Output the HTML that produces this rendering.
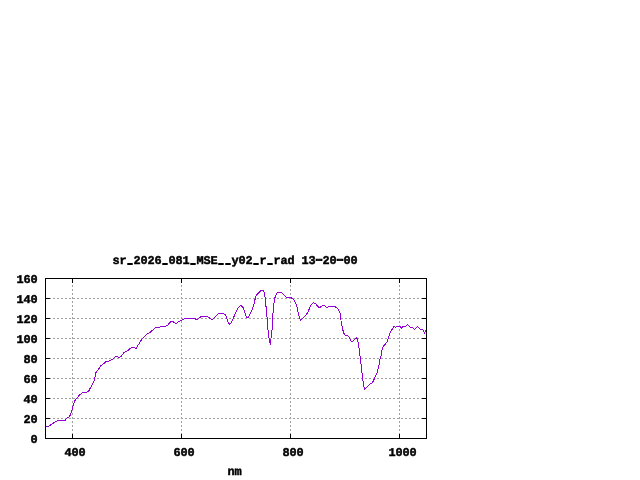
<!DOCTYPE html>
<html lang="en">
<head>
<meta charset="utf-8">
<title>sr_2026_081_MSE__y02_r_rad 13-20-00</title>
<style>
html,body{margin:0;padding:0;background:#ffffff;}
body{width:640px;height:480px;overflow:hidden;}
svg{display:block;}
</style>
</head>
<body>
<svg width="640" height="480" viewBox="0 0 640 480">
<rect x="0" y="0" width="640" height="480" fill="#ffffff"/>
<g stroke="#a0a0a0" stroke-width="1" stroke-dasharray="2 2" shape-rendering="crispEdges" fill="none">
<line x1="45" y1="298.5" x2="427" y2="298.5"/>
<line x1="45" y1="318.5" x2="427" y2="318.5"/>
<line x1="45" y1="338.5" x2="427" y2="338.5"/>
<line x1="45" y1="358.5" x2="427" y2="358.5"/>
<line x1="45" y1="378.5" x2="427" y2="378.5"/>
<line x1="45" y1="398.5" x2="427" y2="398.5"/>
<line x1="45" y1="418.5" x2="427" y2="418.5"/>
<line x1="72.5" y1="439" x2="72.5" y2="278"/>
<line x1="181.5" y1="439" x2="181.5" y2="278"/>
<line x1="290.5" y1="439" x2="290.5" y2="278"/>
<line x1="399.5" y1="439" x2="399.5" y2="278"/>
</g>
<g stroke="#000000" stroke-width="1" shape-rendering="crispEdges" fill="none">
<line x1="45" y1="298.5" x2="50" y2="298.5"/>
<line x1="422" y1="298.5" x2="427" y2="298.5"/>
<line x1="45" y1="318.5" x2="50" y2="318.5"/>
<line x1="422" y1="318.5" x2="427" y2="318.5"/>
<line x1="45" y1="338.5" x2="50" y2="338.5"/>
<line x1="422" y1="338.5" x2="427" y2="338.5"/>
<line x1="45" y1="358.5" x2="50" y2="358.5"/>
<line x1="422" y1="358.5" x2="427" y2="358.5"/>
<line x1="45" y1="378.5" x2="50" y2="378.5"/>
<line x1="422" y1="378.5" x2="427" y2="378.5"/>
<line x1="45" y1="398.5" x2="50" y2="398.5"/>
<line x1="422" y1="398.5" x2="427" y2="398.5"/>
<line x1="45" y1="418.5" x2="50" y2="418.5"/>
<line x1="422" y1="418.5" x2="427" y2="418.5"/>
<line x1="72.5" y1="434" x2="72.5" y2="439"/>
<line x1="72.5" y1="278" x2="72.5" y2="283"/>
<line x1="181.5" y1="434" x2="181.5" y2="439"/>
<line x1="181.5" y1="278" x2="181.5" y2="283"/>
<line x1="290.5" y1="434" x2="290.5" y2="439"/>
<line x1="290.5" y1="278" x2="290.5" y2="283"/>
<line x1="399.5" y1="434" x2="399.5" y2="439"/>
<line x1="399.5" y1="278" x2="399.5" y2="283"/>
<rect x="45.5" y="278.5" width="381" height="160"/>
</g>
<polyline points="45.5,426.5 48.3,426.5 53,423.5 55.3,421.5 58,420.5 65.2,420.5 66.3,418.5 68.4,417.4 69.6,416.3 70.6,414.5 71.4,412 74.4,401.25 79.4,395 83.1,392.25 86.25,392.25 88.75,391 94.4,380.3 95.6,373.1 101.25,365.25 103.75,363.75 106.25,361.5 108.1,361.25 112.75,359.4 115.6,356.5 117.25,356.5 118.75,357.5 121.25,356.25 123.75,352.75 128.1,350.25 131.5,347.5 134.4,347.5 136,348.5 142.5,338.3 146.25,334.6 150.3,332.2 155.6,327.5 158.75,327.5 160.6,326.5 165,326.5 167.5,325.25 171.25,321.25 172.75,321.5 176,323.5 178.75,321.5 182.5,319.75 184.75,318.4 194.4,318.4 196,319.4 197.5,319.4 201.25,316.5 207.5,316.5 210,318.5 211.9,319.45 213.5,318.5 218.3,313.5 223.1,313.5 225.6,315 228.1,322.5 229.75,324.5 231.25,322.5 238.1,307.75 240.6,305.25 243.1,307.5 246.5,317.5 248.1,317.5 251.5,311.25 253.75,305 255.6,297 256.9,294.7 261.25,290.4 263.5,290.4 264.45,292.8 265.25,299 266.9,315 267.5,325 268.5,335 270.3,344.5 271.5,334.5 272,330.5 272.6,318 273.75,304.4 275,297.5 276.4,293.75 277.6,292.4 281.25,292.3 283.75,294.75 286.25,297.25 290.25,297.25 293.5,299.4 295,301.9 296.5,305 298.1,312.5 300.4,320.25 304.4,316.5 307.5,313.1 310.6,305.6 313.5,302.5 315.6,303.75 318.75,307.4 320.1,307.4 322.5,305.4 324.4,305.4 326,307.3 327.6,307.3 328.75,306.5 334.4,306.5 336.9,307.75 338.75,310 340.25,313.75 341.25,322.5 342.5,328.75 343.75,333.1 345.25,335.25 347.5,335.4 349.4,337.5 351.25,341.25 352.5,341.5 356.25,337.5 357.4,339 358.6,345 360.6,360 362.5,377.5 364.4,389.4 369.4,384.4 372.5,382.75 376.9,373.1 378.75,366.25 380.25,358.1 381.4,355 381.9,350 383.1,346.6 386.9,342.2 389,336.25 390.2,332.5 392.5,328.75 394,326.25 395.6,327.25 398.1,326.25 400.25,326.25 401.5,328.1 403.1,326.5 405.6,326.25 407.5,324.4 410.25,327.25 412.5,327.5 414.75,329.4 417.25,326.5 420,329 422.75,329.6 424.4,333.1 425.6,330.6 426.5,331.25" fill="none" stroke="#9400d3" stroke-width="1" stroke-linejoin="round" shape-rendering="crispEdges"/>
<g font-family='"Liberation Mono", "DejaVu Sans Mono", monospace' font-weight="bold" font-size="11.9px" fill="#000000" stroke="#000000" stroke-width="0.45" stroke-linejoin="miter" xml:space="preserve" text-rendering="geometricPrecision">
<text x="112.6 119.6 127.75 133.6 140.6 147.6 154.6 162.75 168.6 175.6 182.6 190.75 196.6 203.6 210.6 218.75 225.75 231.6 238.6 245.6 253.75 259.6 267.75 273.6 280.6 287.6 294.6 301.6 308.6 313.25 322.6 329.6 334.25 343.6 350.6" y="264 264 263.4 264 264 264 264 263.4 264 264 264 263.4 264 264 264 263.4 263.4 264 264 264 263.4 264 263.4 264 264 264 264 264 264 262.7 264 264 262.7 264 264">sr<tspan stroke-width="1.5" textLength="4.5" lengthAdjust="spacingAndGlyphs">_</tspan>2026<tspan stroke-width="1.5" textLength="4.5" lengthAdjust="spacingAndGlyphs">_</tspan>081<tspan stroke-width="1.5" textLength="4.5" lengthAdjust="spacingAndGlyphs">_</tspan>MSE<tspan stroke-width="1.5" textLength="4.5" lengthAdjust="spacingAndGlyphs">_</tspan><tspan stroke-width="1.5" textLength="4.5" lengthAdjust="spacingAndGlyphs">_</tspan>y02<tspan stroke-width="1.5" textLength="4.5" lengthAdjust="spacingAndGlyphs">_</tspan>r<tspan stroke-width="1.5" textLength="4.5" lengthAdjust="spacingAndGlyphs">_</tspan>rad 13<tspan stroke-width="0.8" textLength="11.6" lengthAdjust="spacingAndGlyphs">-</tspan>20<tspan stroke-width="0.8" textLength="11.6" lengthAdjust="spacingAndGlyphs">-</tspan>00</text>
<text x="30.6" y="443">0</text>
<text x="23.6 30.6" y="423 423">20</text>
<text x="23.6 30.6" y="403 403">40</text>
<text x="23.6 30.6" y="383 383">60</text>
<text x="23.6 30.6" y="363 363">80</text>
<text x="16.6 23.6 30.6" y="343 343 343">100</text>
<text x="16.6 23.6 30.6" y="323 323 323">120</text>
<text x="16.6 23.6 30.6" y="303 303 303">140</text>
<text x="16.6 23.6 30.6" y="283 283 283">160</text>
<text x="64.6 71.6 78.6" y="456 456 456">400</text>
<text x="173.6 180.6 187.6" y="456 456 456">600</text>
<text x="282.6 289.6 296.6" y="456 456 456">800</text>
<text x="388.6 395.6 402.6 409.6" y="456 456 456 456">1000</text>
<text x="227.6 234.6" y="475 475">nm</text>
</g>
</svg>
</body>
</html>
